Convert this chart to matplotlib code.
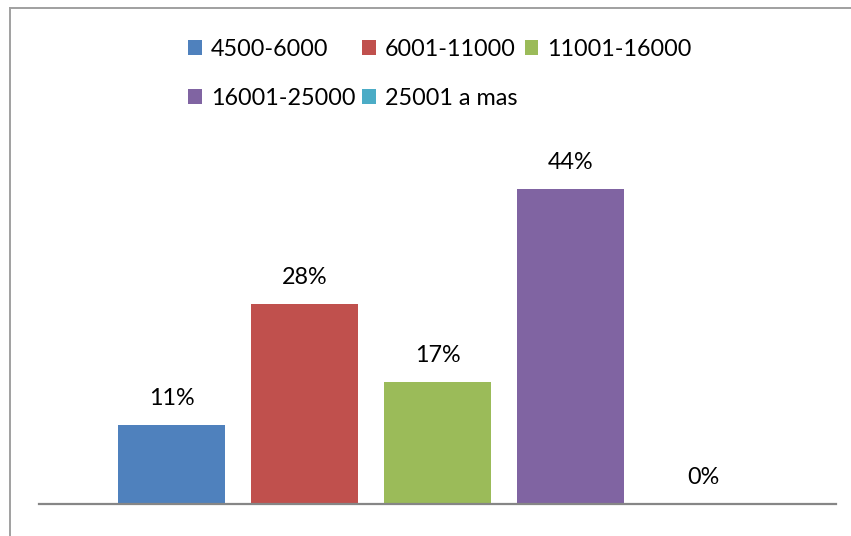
import matplotlib
matplotlib.use("Agg")
import matplotlib.pyplot as plt
from matplotlib.patches import Patch
from matplotlib.lines import Line2D

categories = ["4500-6000", "6001-11000", "11001-16000", "16001-25000", "25001 a mas"]
values = [11, 28, 17, 44, 0]
colors = ["#4F81BD", "#C0504D", "#9BBB59", "#8064A2", "#4BACC6"]

plt.rcParams["font.family"] = ["Lato", "DejaVu Sans"]
FS = 16.8

W, H = 851, 536
fig = plt.figure(figsize=(W / 100, H / 100), dpi=100)
fig.patch.set_facecolor("white")

# plot area in pixel terms
left, right, bottom, top = 39, 836, 504, 146
ax = fig.add_axes([left / W, (H - bottom) / H, (right - left) / W, (bottom - top) / H])

xs = list(range(len(values)))
bars = ax.bar(xs, values, width=0.805, color=colors, zorder=2)
ax.set_xlim(-1, 5)
ax.set_ylim(0, 50)

for rect, v in zip(bars, values):
    ax.annotate(f"{v}%", (rect.get_x() + rect.get_width() / 2, v),
                xytext=(0, 19), textcoords="offset points",
                ha="center", va="center", fontsize=FS, color="#000000")

for s in ["top", "right", "left"]:
    ax.spines[s].set_visible(False)
ax.spines["bottom"].set_color("#868686")
ax.spines["bottom"].set_linewidth(1.6)
ax.set_xticks([])
ax.set_yticks([])

# legend: rows filled left to right
handles = [Patch(facecolor=c, edgecolor="none") for c in colors]
order = [0, 3, 1, 4, 2]
leg = fig.legend([handles[i] for i in order], [categories[i] for i in order],
                 ncol=3, loc="upper left", bbox_to_anchor=(188 / W, 1 - 39 / H),
                 frameon=False, fontsize=FS, handlelength=0.58, handleheight=0.6,
                 handletextpad=0.4, columnspacing=0.3, labelspacing=1.2,
                 borderaxespad=0, borderpad=0)

# chart frame (left and top edges)
fig.add_artist(Line2D([9.5 / W, 9.5 / W], [0, 1 - 8 / H], transform=fig.transFigure,
                      color="#A0A0A0", linewidth=1.4))
fig.add_artist(Line2D([9.5 / W, 1], [1 - 8 / H, 1 - 8 / H], transform=fig.transFigure,
                      color="#A0A0A0", linewidth=1.4))

fig.savefig("out.png", dpi=100, facecolor="white")
